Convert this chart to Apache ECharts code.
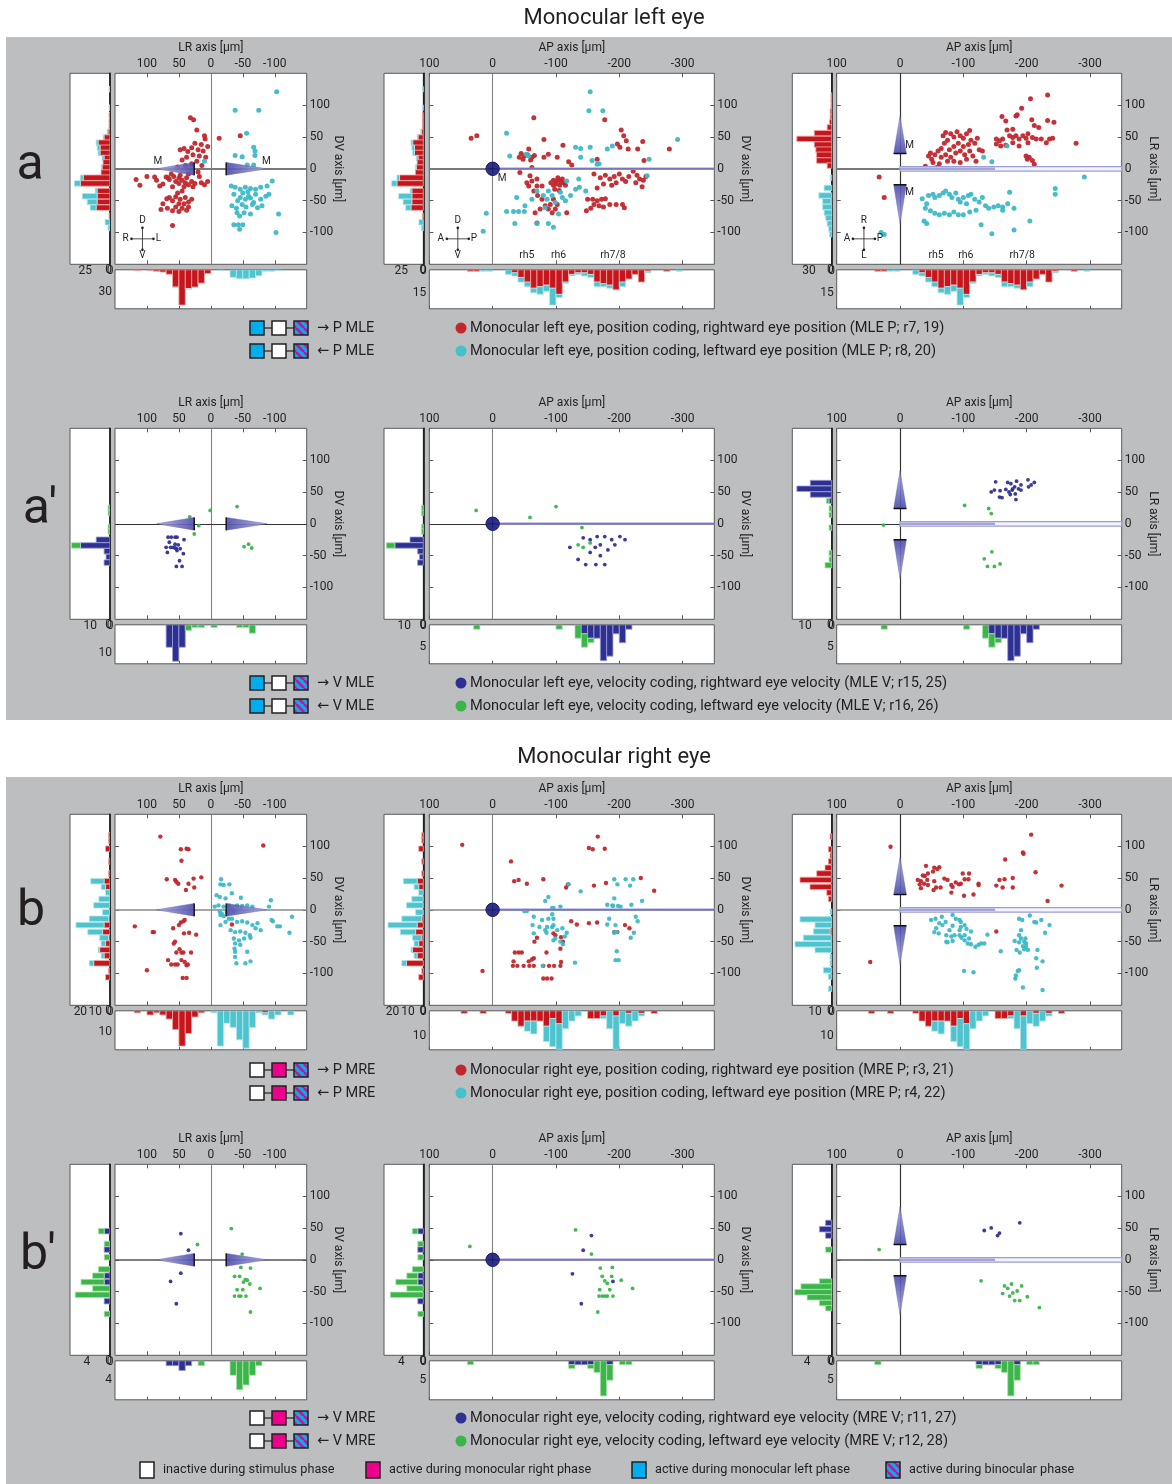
<!DOCTYPE html>
<html><head><meta charset="utf-8">
<script src="https://cdn.jsdelivr.net/npm/echarts@6/dist/echarts.min.js"></script>
<style>
html,body{margin:0;padding:0;background:#fff;}
#bg1{position:absolute;left:6px;top:37px;width:1166px;height:683px;background:#bcbec0;}
#bg2{position:absolute;left:6px;top:777px;width:1166px;height:707px;background:#bcbec0;}
#chart{position:absolute;left:0;top:0;width:1172px;height:1484px;}
</style></head>
<body><div id="bg1"></div><div id="bg2"></div><div id="chart"></div>
<script>
// ---------------- tick labels / ranges ----------------
const LR_TICKS=[100,50,0,-50,-100];
const AP_TICKS=[100,0,-100,-200,-300];
const DV_TICKS=[100,50,0,-50,-100];
const LR_RANGE=[-150,150], AP_RANGE=[-350,100], DV_RANGE=[-150,150];

// ---------------- row a: monocular left eye, position ----------------
const a_LRDV_red=[[32,80],[27,77],[22,61],[10,52],[9,47],[-13,48],[-46,52],
[25,40],[15,38],[5,35],[30,33],[20,30],[42,32],[48,30],[36,27],[12,28],[28,22],[18,20],[8,18],[38,18],[45,14],[22,12],[30,8],[14,5],[40,5],[52,3],
[20,-5],[35,-8],[48,-10],[58,-12],[70,-13],[88,-13],[100,-12],[117,-17],[111,-26],[85,-18],[75,-24],[65,-17],[55,-20],[50,-23],[45,-18],[40,-22],[35,-25],[30,-20],[25,-23],[15,-22],[10,-25],[5,-20],[60,-28],[42,-28],[28,-28],[50,-15],[38,-14],[18,-12],[62,-8],[80,-27],[67,-14],
[45,-35],[52,-38],[55,-44],[48,-48],[40,-45],[60,-50],[50,-55],[42,-55],[35,-52],[55,-60],[45,-62],[38,-65],[50,-67],[60,-66],[68,-62],[75,-55],[65,-45],[30,-48],[35,-60],[78,-64],[69,-47],[60,-89]];
const a_LRDV_cyan=[[-103,121],[-38,92],[-75,92],[-56,56],[-67,34],[-69,28],[-38,21],[-49,19],[-69,21],[-57,6],[-67,6],[10,12],
[-32,-27],[-38,-29],[-46,-32],[-54,-29],[-62,-31],[-70,-32],[-78,-29],[-88,-27],[-96,-19],
[-36,-40],[-46,-45],[-54,-48],[-59,-43],[-67,-53],[-78,-48],[-86,-43],[-91,-40],
[-33,-58],[-49,-56],[-65,-56],[-73,-61],[-41,-69],[-52,-69],[-62,-71],[-45,-74],
[-106,-71],[-36,-88],[-43,-88],[-50,-88],[-45,-95],[-102,-100],
[-50,-38],[-58,-36],[-42,-50],[-62,-46],[-70,-40],[-55,-60],[-80,-58],[-40,-62]];
const a_APDV_red=[[34,48],[25,52],[-65,80],[-177,77],[-203,61],[-207,52],[-211,44],[-197,39],[-201,34],[-214,31],[-237,43],[-229,31],[-279,31],
[-81,46],[-111,37],[-88,23],[-81,18],[-102,18],
[-45,24],[-50,20],[-55,22],[-62,18],[-48,15],[-60,14],[-42,18],[-66,21],[-57,31],[-120,11],[-125,6],[-165,15],[-239,13],
[-96,-18],[-100,-20],[-104,-18],[-108,-20],[-112,-22],[-100,-24],[-106,-26],[-96,-26],[-110,-16],[-103,-14],[-92,-22],[-115,-26],[-98,-32],[-105,-34],
[-59,-11],[-62,-19],[-70,-16],[-70,-27],[-78,-27],[-54,-22],[-57,-27],[-62,2],[-43,-6],
[-65,-35],[-71,-42],[-78,-48],[-83,-58],[-88,-63],[-94,-69],[-75,-63],[-96,-48],[-102,-56],[-91,-56],[-99,-63],[-67,-69],[-70,-85],
[-160,-8],[-170,-14],[-178,-10],[-185,-16],[-192,-12],[-200,-8],[-205,-16],[-195,-22],[-188,-26],[-175,-24],[-165,-30],[-210,-20],[-215,-12],[-222,-4],[-228,-10],[-232,-16],[-226,-22],[-238,-18],[-242,-12],[-236,-28],
[-150,-48],[-158,-48],[-165,-50],[-172,-48],[-178,-47],[-160,-56],[-168,-58],[-155,-62],[-175,-60],[-185,-56],[-195,-56],[-205,-56],[-208,-61],[-148,-66],[-117,-69]];
const a_APDV_cyan=[[-154,121],[-152,91],[-174,91],[-22,56],[-27,20],[-131,34],[-139,32],[-154,34],[-181,31],[-189,36],[-292,46],[-247,15],[-53,23],[-57,20],[-139,18],[-157,13],[-165,7],[-168,8],
[10,-70],[15,-98],[-38,-45],[-51,-58],[-22,-67],[-33,-67],[-41,-67],[-50,-67],[-35,-86],[-70,-86],[-88,-86],[-96,-92],
[-62,-48],[-70,-35],[-80,-42],[-86,-48],[-88,-35],[-94,-42],[-99,-53],[-107,-37],[-110,-45],[-115,-50],[-123,-42],[-131,-32],[-137,-29],[-147,-35],[-83,-61],[-104,-71],[-244,-11],[-117,-19],[-136,-16]];
const a_APLR_red=[[-233,116],[-206,110],[-192,95],[-183,83],[-185,85],[-161,82],[-167,75],[-208,77],[-233,76],[-243,73],[-219,65],[-212,68],[-169,61],[-178,62],
[-152,47],[-157,44],[-162,47],[-173,52],[-178,49],[-183,52],[-188,47],[-194,52],[-199,48],[-202,55],[-209,49],[-215,47],[-223,47],[-231,41],[-236,47],[-241,48],
[-152,39],[-159,36],[-167,37],[-178,41],[-188,36],[-202,41],[-278,40],[-199,20],[-204,18],[-209,13],[-212,7],[-201,15],
[-45,20],[-50,15],[-48,25],[-55,22],[-52,10],[-60,28],[-65,32],[-70,40],[-75,45],[-68,52],[-72,57],[-80,55],[-85,50],[-90,58],[-95,52],[-100,48],[-105,55],[-110,60],[-112,45],[-118,40],[-108,38],[-100,35],[-92,40],[-85,35],[-78,30],[-72,22],[-80,18],[-88,25],[-95,28],[-102,22],[-110,28],[-115,20],[-120,12],[-95,10],[-85,12],[-62,8],[-40,4],[-58,2],[-125,30],[-130,28],[-122,48],[-65,18],[-75,12],[-105,15],
[33,-13],[25,-45]];
const a_APLR_cyan=[[-169,36],[-132,18],[-145,11],[-291,-13],[-245,-31],[-245,-40],[-173,-37],
[-35,-47],[-42,-55],[-45,-42],[-52,-40],[-55,-45],[-62,-42],[-68,-38],[-72,-35],[-78,-40],[-82,-45],[-88,-38],[-92,-48],[-95,-52],[-100,-45],[-105,-55],[-108,-42],[-112,-40],[-118,-48],[-125,-52],[-130,-45],[-135,-58],[-140,-62],[-148,-60],[-155,-58],[-162,-60],[-170,-55],[-180,-62],[-40,-62],[-48,-66],[-55,-70],[-62,-72],[-70,-70],[-78,-72],[-85,-68],[-92,-72],[-100,-72],[-110,-68],[-120,-65],[-128,-88],[-145,-102],[-180,-96],[-205,-82],[-38,-82],[-42,-86],[-162,-65],[30,-100],[25,-103]];
// histograms: [bin centre, first series count, second series count (stacked)]
const a_histDV=[[125,0,1],[96,0,1],[84,1,0],[75,1,0],[67,1,0],[58,2,1],[49,6,1],[41,12,2],[33,10,3],[25,10,2],[17,6,2],[10,7,0],[2,8,1],[-6,9,0],[-14,27,3],[-23,30,6],[-35,13,2],[-43,13,15],[-52,13,10],[-61,14,6],[-74,1,0],[-84,0,5],[-93,0,2]];
const a_histLR=[[115,1,0],[95,1,0],[85,2,0],[75,3,0],[65,6,0],[55,23,1],[45,47,0],[35,25,1],[25,23,0],[15,18,1],[5,5,0],[-15,0,1],[-35,0,10],[-45,0,12],[-55,0,12],[-65,0,11],[-75,0,8],[-85,0,2],[-95,0,2],[-105,0,1]];
const a_histAP=[[35,1,0],[25,1,0],[15,0,1],[5,0,1],[-25,0,3],[-35,2,2],[-45,5,3],[-55,8,3],[-65,12,3],[-75,11,5],[-85,10,4],[-95,12,11],[-105,16,2],[-115,8,1],[-125,3,1],[-135,2,1],[-145,2,2],[-155,3,2],[-165,8,3],[-175,9,2],[-185,10,2],[-195,13,0],[-205,8,3],[-215,6,0],[-225,3,0],[-235,8,0],[-245,1,1],[-275,1,0],[-295,0,1]];
const a_histLRs=[[115,1,0],[107,1,0],[98,1,0],[90,2,0],[81,2,0],[73,3,0],[65,6,0],[56,23,0],[47,46,0],[38,23,0],[30,21,0],[22,20,0],[13,20,0],[5,6,0],[-14,1,1],[-30,0,10],[-42,0,17],[-51,1,11],[-60,0,12],[-69,0,10],[-77,0,8],[-86,0,6],[-94,0,4],[-103,0,3]];
const a_histAxes=[[40.4,[25,0]],[52,[0,30]],[44.7,[25,0]],[25.4,[0,15]],[52,[30,0]],[25.4,[0,15]]];

// ---------------- row a': monocular left eye, velocity ----------------
const ap_LRDV_blue=[[67,-21],[62,-21],[56,-21],[53,-21],[42,-25],[65,-29],[56,-32],[51,-33],[70,-37],[63,-37],[56,-38],[48,-39],[68,-45],[53,-42],[43,-47],[49,-58],[54,-67],[45,-67],[59,-37],[54,-39]];
const ap_LRDV_green=[[33,11],[19,-3],[26,-16],[1,21],[-41,27],[-52,-36],[-59,-32],[-64,-38]];
const ap_APDV_blue=[[-143,-22],[-154,-25],[-165,-20],[-177,-20],[-188,-25],[-201,-20],[-209,-25],[-162,-37],[-170,-33],[-182,-41],[-193,-33],[-154,-45],[-170,-50],[-135,-56],[-147,-64],[-163,-64],[-177,-64],[-122,-37]];
const ap_APDV_green=[[26,21],[-59,10],[-100,27],[-135,-33],[-143,-37],[-154,-30],[-141,-6]];
const ap_APLR_blue=[[-151,66],[-144,50],[-149,53],[-158,52],[-170,65],[-175,63],[-184,67],[-202,69],[-212,65],[-207,61],[-203,58],[-191,61],[-187,55],[-181,58],[-177,53],[-172,50],[-182,47],[-174,46],[-157,42],[-161,41],[-183,38],[-167,54],[-178,55],[-191,53]];
const ap_APLR_green=[[-102,29],[-140,24],[-144,16],[26,-2],[-145,-44],[-133,-55],[-138,-67],[-149,-67],[-158,-63]];
const ap_histDV=[[25,0,1],[17,0,1],[-5,0,1],[-12,0,1],[-25,7,0],[-34,15,4.5],[-43,3,0],[-52,2,0],[-61,3,0]];
const ap_histLR=[[65,8,0],[55,13,0],[45,8,0],[35,0,2],[25,0,1],[15,0,1],[-5,0,1],[-45,0,1],[-55,0,1],[-65,0,3]];
const ap_histAP=[[25,0,1],[-105,0,1],[-135,0,3],[-145,2,3],[-155,3,1],[-165,3,0],[-175,8,0],[-185,7,0],[-195,2,0],[-205,4,0],[-215,1,0]];
const ap_histLRs=[[64,8,0],[55,13,0],[46,8,0],[36,1,1],[24,0,1],[14,0,1],[-6,0,1],[-46,0,1],[-56,0,1],[-65,0,2.5]];
const ap_histAxes=[[20.3,[10,0]],[13.9,[0,10]],[20.7,[10,0]],[8.7,[0,5]],[14.7,[10,0]],[8.7,[0,5]]];

// ---------------- row b: monocular right eye, position ----------------
const b_LRDV_red=[[79,115],[-82,101],[47,95],[38,96],[35,95],[46,77],[69,48],[56,47],[54,44],[51,41],[27,49],[15,51],[35,41],[26,35],[39,31],
[119,-26],[91,-35],[89,-35],[59,-29],[47,-20],[43,-18],[41,-16],[50,-24],[42,-37],[34,-36],[23,-39],[56,-50],[58,-53],[49,-62],[54,-67],[46,-67],[43,-67],[31,-67],[67,-79],[62,-86],[56,-86],[52,-86],[46,-79],[41,-82],[38,-87],[36,-86],[100,-95],[44,-107],[38,-107],[-33,-23]];
const b_LRDV_cyan=[[-16,48],[-15,40],[-20,39],[-29,40],[-9,23],[-14,20],[-23,18],[-33,26],[-47,19],[-6,5],[-12,7],[-20,5],[-28,7],[-41,7],[-49,6],[-57,7],[-65,5],[-94,15],[-91,5],[-14,-3],[-17,-6],[-25,-3],[-36,-3],[-15,-8],[-20,-10],[-28,-14],[-33,-14],[-41,-19],[-49,-18],[-57,-20],[-65,-24],[-73,-21],[-95,-16],[-97,-18],[-104,-26],[-108,-26],[-127,-11],[-123,-36],[-15,-24],[-23,-19],[-31,-32],[-38,-35],[-46,-34],[-54,-36],[-61,-40],[-36,-45],[-44,-48],[-52,-45],[-62,-44],[-38,-53],[-46,-55],[-57,-66],[-37,-61],[-38,-66],[-38,-74],[-54,-84],[-62,-81],[-40,-84],[-70,-29],[-78,-32]];
const b_APDV_red=[[48,102],[16,-96],[-29,76],[-34,45],[-41,47],[-54,41],[-80,48],[-152,97],[-158,95],[-166,115],[-177,96],[-116,35],[-119,40],[-160,38],[-179,42],[-234,50],[-255,30],
[-35,-67],[-41,-67],[-46,-67],[-57,-81],[-62,-78],[-65,-76],[-33,-81],[-32,-88],[-39,-88],[-49,-88],[-58,-88],[-65,-88],[-80,-88],[-89,-88],[-97,-88],[-107,-88],[-108,-82],[-80,-108],[-86,-108],[-93,-108],[-85,-67],[-66,-50],[-70,-44],[-107,-61],[-111,-50],[-96,-37],[-99,-40],[-124,-18],[-133,-23],[-152,-21],[-165,-20],[-192,-35],[-209,-24],[-216,-29],[-197,-35],[-108,-43]];
const b_APDV_cyan=[[-139,29],[-120,40],[-88,20],[-83,14],[-94,3],[-96,3],[-107,5],[-50,-2],[-54,-2],[-65,-11],[-78,-16],[-88,-14],[-94,-7],[-96,-14],[-74,-27],[-86,-27],[-94,-27],[-96,-24],[-102,-32],[-110,-29],[-117,-36],[-63,-24],[-65,-37],[-83,-32],[-85,-36],[-96,-48],[-99,-45],[-114,-42],[-107,-50],[-111,-54],[-130,-83],[-79,-88],
[-192,48],[-197,40],[-210,48],[-217,38],[-222,48],[-192,18],[-190,6],[-189,7],[-181,8],[-198,6],[-202,5],[-219,8],[-236,14],[-184,-14],[-181,-23],[-194,-24],[-192,-36],[-196,-35],[-226,-11],[-229,-18],[-218,-44],[-223,-36],[-196,-65],[-194,-79],[-199,-79]];
const b_APLR_red=[[15,99],[47,-82],[-207,118],[-194,90],[-195,88],[-166,79],[-214,59],[-178,50],[-165,48],[-157,47],[-162,35],[-178,35],[-255,38],[-233,14],[-152,38],
[-41,69],[-54,66],[-59,64],[-62,67],[-36,54],[-39,53],[-44,57],[-52,60],[-28,47],[-33,45],[-38,41],[-44,39],[-54,45],[-57,35],[-64,35],[-70,49],[-75,47],[-81,39],[-83,36],[-88,43],[-93,40],[-99,57],[-109,57],[-102,48],[-108,48],[-96,41],[-124,41],[-124,39],[-81,27],[-101,22],[-116,24],[-31,40],[-53,31],[-43,47],[-33,34],[-152,-34]];
const b_APLR_cyan=[[-49,-16],[-56,-14],[-66,-11],[-62,-21],[-67,-24],[-57,-29],[-54,-35],[-61,-37],[-73,-40],[-81,-42],[-73,-50],[-75,-51],[-83,-49],[-86,-40],[-94,-40],[-97,-44],[-102,-48],[-107,-53],[-112,-54],[-119,-58],[-124,-55],[-128,-53],[-133,-53],[-138,-39],[-96,-19],[-96,-27],[-83,-8],[-88,-14],[-94,-16],[-102,-24],[-105,-30],[-112,-34],[-94,-32],[-102,-40],[-109,-45],[-83,-25],[-78,-32],[-72,-19],
[-188,-14],[-193,-16],[-205,-9],[-212,-19],[-215,-20],[-223,-16],[-229,-36],[-236,-24],[-188,-40],[-191,-45],[-196,-50],[-188,-51],[-194,-57],[-199,-58],[-181,-49],[-184,-63],[-189,-67],[-196,-62],[-202,-63],[-217,-63],[-215,-76],[-225,-81],[-216,-91],[-188,-95],[-186,-96],[-183,-103],[-182,-108],[-194,-122],[-225,-126],[-159,-65],[-191,-32],[-198,-45],[-199,-53],[-101,-96],[-116,-98]];
const b_histDV=[[117,1,0],[109,1,0],[96,3,0],[76,1,0],[57,1,0],[45,4,9],[36,3,3],[27,0,3],[17,0,7.5],[7,0,11],[-4,0,5],[-14,1,13],[-24,4,19],[-35,5,10],[-44,1,6],[-53,3,3],[-63,7,1],[-72,4,2],[-84,11,3],[-96,1,0],[-106,3,0]];
const b_histLR=[[115,1,0],[95,2,0],[85,1,0],[75,2,0],[65,4,0],[55,9,0],[45,17,0],[35,11,0],[25,3,0],[15,1,0],[-5,0,1],[-15,0,17],[-25,0,6],[-35,0,8],[-45,0,14],[-55,0,18],[-65,0,8],[-75,0,1],[-85,1,1],[-95,0,4],[-105,0,2],[-125,0,2]];
const b_histAP=[[45,1,0],[15,1,0],[-25,1,0],[-35,4,0],[-45,6,0],[-55,4,4],[-65,4,5],[-75,4,0],[-85,6,6],[-95,3,11],[-105,5,10],[-115,0,7],[-125,0,4],[-135,0,2],[-155,3,0],[-165,3,0],[-175,2,1],[-185,0,7],[-195,2,13],[-205,0,5],[-215,1,5],[-225,0,4],[-235,1,1],[-255,1,0]];
const b_histLRs=[[115,1,0],[95,2,0],[85,1,0],[76,2,0],[66,4,0],[57,9,0],[47,19,0],[36,13,0],[27,3,0],[17,2,0],[-3,0,1],[-15,0,19],[-24,0,10],[-34,1,10],[-44,0,17],[-54,0,22],[-63,0,10],[-74,0,1],[-84,0,1],[-95,0,5],[-105,0,2],[-124,0,2]];
const b_histAxes=[[27,[20,10,0]],[18.8,[0,10]],[25.6,[20,10,0]],[15.2,[0,10]],[23.6,[10,0]],[15.2,[0,10]]];

// ---------------- row b': monocular right eye, velocity ----------------
const bp_LRDV_blue=[[47,41],[35,15],[47,-21],[63,-34],[54,-69]];
const bp_LRDV_green=[[21,24],[-32,49],[-49,9],[-47,-12],[-62,-13],[-37,-26],[-45,-26],[-51,-35],[-54,-31],[-57,-32],[-61,-38],[-41,-47],[-50,-47],[-77,-45],[-37,-57],[-44,-57],[-47,-57],[-55,-57],[-62,-82]];
const bp_APDV_blue=[[-156,38],[-143,15],[-126,-22],[-190,-34],[-140,-69]];
const bp_APDV_green=[[36,21],[-131,47],[-156,9],[-170,-13],[-189,-12],[-173,-26],[-188,-26],[-177,-33],[-181,-37],[-203,-32],[-169,-47],[-185,-47],[-221,-45],[-168,-57],[-173,-57],[-177,-57],[-181,-57],[-190,-57],[-166,-82]];
const bp_APLR_blue=[[-133,46],[-144,50],[-154,38],[-189,58],[-157,42]];
const bp_APLR_green=[[33,16],[-128,-33],[-165,-41],[-176,-38],[-185,-49],[-192,-41],[-173,-57],[-162,-53],[-201,-58],[-220,-75],[-181,-64],[-189,-64],[-170,-45],[-178,-52]];
const bp_histDV=[[45,1,1],[25,0,1],[16,1,0],[4,0,1],[-15,0,2],[-25,1,2],[-35,1,4],[-45,0,3],[-55,0,6],[-65,1,0],[-85,0,1]];
const bp_histLR=[[65,1,0],[55,1,0],[45,2,0],[35,1,0],[15,0,1],[-35,0,3],[-45,0,6],[-55,0,5],[-65,0,3],[-75,0,1]];
const bp_histAP=[[35,0,1],[-125,1,1],[-135,1,0],[-145,1,0],[-155,1,1],[-165,0,3],[-175,0,9],[-185,1,4],[-205,0,1],[-215,0,1]];
const bp_histLRs=[[58,1,0],[48,2,0],[38,1,0],[16,0,1],[-34,0,2],[-42,0,5],[-51,0,6],[-59,0,4],[-68,0,2],[-76,0,1]];
const bp_histAxes=[[6.9,[4,0]],[8.07,[0,4]],[7.15,[4,0]],[10,[0,5]],[6.4,[4,0]],[10,[0,5]]];

// ---------------- annotation geometry (data units) ----------------
const M_TRI_LRDV=[[85,26,10],[-88,-24,10]];   // tip LR, base LR, half height (DV)
const M_TRI_APLR=[[83,24,10],[-86,-25,10]];   // tip LR, base LR, half width (AP)
const BAND_APLR=[[0,-350,3.5,-150]];
const M_LAB_LRDV=[[83,11],[-87,11]], M_LAB_APDV=[[-15,-16]], M_LAB_APLR=[[-15,37],[-15,-37]];
const RH_NAMES=['rh5','rh6','rh7/8'];
const RH_APDV=[[-54,-136],[-104,-136],[-190,-136]];
const RH_APLR=[[-57,-136],[-104,-136],[-193,-136]];
const CROSS_POS=[[107,-110],[55,-110],[57,-110]];
const CROSS_TXT=[['D','V','R','L'],['D','V','A','P'],['R','L','A','P']];

// ---------------- styles ----------------
const FONT="Roboto, 'Noto Sans', 'DejaVu Sans', sans-serif";
const TXT='#231f20';
const RED='#c1272d', CYAN='#3cb9c6', BLUE='#2e3192', GREEN='#39b54a';
const H_RED=['#c4161c','#f2aaa6'], H_CYAN=['#4fc4cf','#b5e7ec'], H_BLUE=['#2e3192','#9d9dd8'], H_GREEN=['#3cb64b','#aee3ae'];

const COLS=[
 {x:115,w:191.7,sx:70,sw:40,xname:'LR axis [µm]',yname:'DV axis [µm]',xr:LR_RANGE,xt:LR_TICKS,type:'LRDV'},
 {x:429.3,w:285,sx:384,sw:39.3,xname:'AP axis [µm]',yname:'DV axis [µm]',xr:AP_RANGE,xt:AP_TICKS,type:'APDV'},
 {x:836.7,w:285,sx:792.3,sw:39.4,xname:'AP axis [µm]',yname:'LR axis [µm]',xr:AP_RANGE,xt:AP_TICKS,type:'APLR'}
];
const MAIN_H=191, BH_GAP=196.5, BH_H=39;
const ROWS=[
 {top:73.3,dot:5,pc:[RED,CYAN],hc:[H_RED,H_CYAN],sc:[[a_LRDV_red,a_LRDV_cyan],[a_APDV_red,a_APDV_cyan],[a_APLR_red,a_APLR_cyan]],
  hs:[a_histDV,a_histDV,a_histLRs],hb:[a_histLR,a_histAP,a_histAP],ha:a_histAxes,zl:['#7a7a7a',2],deco:true},
 {top:428.3,dot:3.8,pc:[BLUE,GREEN],hc:[H_BLUE,H_GREEN],sc:[[ap_LRDV_blue,ap_LRDV_green],[ap_APDV_blue,ap_APDV_green],[ap_APLR_blue,ap_APLR_green]],
  hs:[ap_histDV,ap_histDV,ap_histLRs],hb:[ap_histLR,ap_histAP,ap_histAP],ha:ap_histAxes,zl:['#333333',1.2],deco:false},
 {top:814.3,dot:4.4,pc:[RED,CYAN],hc:[H_RED,H_CYAN],sc:[[b_LRDV_red,b_LRDV_cyan],[b_APDV_red,b_APDV_cyan],[b_APLR_red,b_APLR_cyan]],
  hs:[b_histDV,b_histDV,b_histLRs],hb:[b_histLR,b_histAP,b_histAP],ha:b_histAxes,zl:['#8a8a8a',1.5],deco:false},
 {top:1164.3,dot:3.8,pc:[BLUE,GREEN],hc:[H_BLUE,H_GREEN],sc:[[bp_LRDV_blue,bp_LRDV_green],[bp_APDV_blue,bp_APDV_green],[bp_APLR_blue,bp_APLR_green]],
  hs:[bp_histDV,bp_histDV,bp_histLRs],hb:[bp_histLR,bp_histAP,bp_histAP],ha:bp_histAxes,zl:['#555555',1.5],deco:false}
];

// ---------------- builders ----------------
const grids=[], xAxes=[], yAxes=[], series=[];
function addGrid(l,t,w,h,extra){grids.push(Object.assign({left:l,top:t,width:w,height:h,show:true,backgroundColor:'#ffffff',borderColor:'#58595b',borderWidth:1,containLabel:false,outerBoundsMode:'none'},extra||{}));return grids.length-1;}
function lab(vals,extra){return Object.assign({show:true,customValues:vals,fontSize:12,color:TXT,fontFamily:FONT},extra||{});}
function tick(vals,len){return {show:true,inside:true,length:len||4,customValues:vals,lineStyle:{color:'#58595b',width:1}};}
const NOSPLIT={show:false};
function addX(o){const a=Object.assign({type:'value',splitLine:NOSPLIT,nameMoveOverlap:false},o);a.axisLine=Object.assign({show:false},o.axisLine||{},{onZero:false});xAxes.push(a);return xAxes.length-1;}
function addY(o){const a=Object.assign({type:'value',splitLine:NOSPLIT,nameMoveOverlap:false},o);a.axisLine=Object.assign({show:false},o.axisLine||{},{onZero:false});yAxes.push(a);return yAxes.length-1;}

function histSeries(xi,yi,data,bw,orient,hc){
 return {type:'custom',xAxisIndex:xi,yAxisIndex:yi,silent:true,clip:true,z:2,data:data,
  renderItem:function(p,api){
   const c=api.value(0),v1=api.value(1),v2=api.value(2);
   const mk=function(a0,a1,col){
    let p0,p1;
    if(orient==='h'){p0=api.coord([a0,c+bw/2]);p1=api.coord([a1,c-bw/2]);}
    else{p0=api.coord([c+bw/2,a0]);p1=api.coord([c-bw/2,a1]);}
    return {type:'rect',shape:{x:Math.min(p0[0],p1[0]),y:Math.min(p0[1],p1[1]),width:Math.abs(p1[0]-p0[0]),height:Math.abs(p1[1]-p0[1])},style:{fill:col[0],stroke:col[1],lineWidth:0.8}};
   };
   const kids=[];
   if(v1>0)kids.push(mk(0,v1,hc[0]));
   if(v2>0)kids.push(mk(v1,v1+v2,hc[1]));
   return {type:'group',children:kids};
  }};
}
function triSeries(type,xi,yi){
 const data=type==='LRDV'?M_TRI_LRDV:M_TRI_APLR;
 return {type:'custom',xAxisIndex:xi,yAxisIndex:yi,silent:true,clip:true,z:4,data:data,
  renderItem:function(p,api){
   const tip=api.value(0),base=api.value(1),hw=api.value(2);
   let pt,p1,p2;
   if(type==='LRDV'){pt=api.coord([tip,0]);p1=api.coord([base,hw]);p2=api.coord([base,-hw]);}
   else{pt=api.coord([0,tip]);p1=api.coord([hw,base]);p2=api.coord([-hw,base]);}
   const mid=[(p1[0]+p2[0])/2,(p1[1]+p2[1])/2];
   return {type:'group',children:[
    {type:'polygon',shape:{points:[pt,p1,p2]},style:{fill:{type:'linear',x:pt[0],y:pt[1],x2:mid[0],y2:mid[1],global:true,colorStops:[{offset:0,color:'rgba(165,165,222,0.85)'},{offset:1,color:'rgba(78,78,172,0.92)'}]},stroke:'rgba(90,90,175,0.7)',lineWidth:0.6}},
    {type:'line',shape:{x1:p1[0],y1:p1[1],x2:p2[0],y2:p2[1]},style:{stroke:'#111111',lineWidth:1.4}}
   ]};
  }};
}
function somaSeries(xi,yi){
 return {type:'custom',xAxisIndex:xi,yAxisIndex:yi,silent:true,clip:true,z:4,data:[[0,0]],
  renderItem:function(p,api){
   const c=api.coord([api.value(0),api.value(1)]), e=api.coord([AP_RANGE[0],0]);
   return {type:'group',children:[
    {type:'line',shape:{x1:c[0],y1:c[1],x2:e[0],y2:e[1]},style:{stroke:'#9898d4',lineWidth:2.6}},
    {type:'line',shape:{x1:c[0],y1:c[1],x2:e[0],y2:e[1]},style:{stroke:'#5a5ab0',lineWidth:0.8}},
    {type:'circle',shape:{cx:c[0],cy:c[1],r:6.7},style:{fill:'#2e3192',stroke:'#16164a',lineWidth:1}},
    {type:'line',shape:{x1:c[0]-5,y1:c[1],x2:c[0]+5,y2:c[1]},style:{stroke:'#15154a',lineWidth:0.7}},
    {type:'line',shape:{x1:c[0],y1:c[1]-5,x2:c[0],y2:c[1]+5},style:{stroke:'#15154a',lineWidth:0.7}}
   ]};
  }};
}
function bandSeries(xi,yi){
 return {type:'custom',xAxisIndex:xi,yAxisIndex:yi,silent:true,clip:true,z:3,data:BAND_APLR,
  renderItem:function(p,api){
   const a0=api.value(0),a1=api.value(1),hh=api.value(2),a2=api.value(3);
   const o0=api.coord([a0,hh]),o1=api.coord([a1,-hh]),i0=api.coord([a0,hh*0.55]),i1=api.coord([a2,-hh*0.55]);
   return {type:'group',children:[
    {type:'rect',shape:{x:o0[0],y:o0[1],width:o1[0]-o0[0],height:o1[1]-o0[1]},style:{fill:'#f3f3fb',stroke:'#9c9cd6',lineWidth:1.3}},
    {type:'rect',shape:{x:i0[0],y:i0[1],width:i1[0]-i0[0],height:i1[1]-i0[1]},style:{fill:'#a4a4da'}}
   ]};
  }};
}
function textSeries(xi,yi,pts,names,size){
 return {type:'custom',xAxisIndex:xi,yAxisIndex:yi,silent:true,z:5,data:pts,
  renderItem:function(p,api){const c=api.coord([api.value(0),api.value(1)]);
   return {type:'text',x:c[0],y:c[1],style:{text:names[p.dataIndex],font:size+'px '+FONT,fill:TXT,align:'center',verticalAlign:'middle'}};}};
}
function crossSeries(xi,yi,pos,txt){
 return {type:'custom',xAxisIndex:xi,yAxisIndex:yi,silent:true,z:5,data:[pos],
  renderItem:function(p,api){
   const c=api.coord([api.value(0),api.value(1)]),L=11,s={stroke:'#231f20',lineWidth:0.8};
   const kids=[{type:'line',shape:{x1:c[0]-L,y1:c[1],x2:c[0]+L,y2:c[1]},style:s},{type:'line',shape:{x1:c[0],y1:c[1]-L,x2:c[0],y2:c[1]+L},style:s}];
   [[0,-L],[0,L],[-L,0],[L,0]].forEach(function(d){kids.push({type:'circle',shape:{cx:c[0]+d[0],cy:c[1]+d[1],r:1.3},style:{fill:'#231f20'}});});
   const off=[[0,-18],[0,17],[-17,0],[16,0]];
   txt.forEach(function(t,i){kids.push({type:'text',x:c[0]+off[i][0],y:c[1]+off[i][1],style:{text:t,font:'10px '+FONT,fill:TXT,align:'center',verticalAlign:'middle'}});});
   return {type:'group',children:kids};
  }};
}

ROWS.forEach(function(row){
 COLS.forEach(function(col,ci){
  const top=row.top;
  // main scatter grid
  const gm=addGrid(col.x,top,col.w,MAIN_H);
  const xm=addX({gridIndex:gm,position:'top',min:col.xr[0],max:col.xr[1],inverse:true,name:col.xname,nameLocation:'middle',nameGap:19,
    nameTextStyle:{fontSize:12,color:TXT,fontFamily:FONT},axisTick:tick(col.xt),axisLabel:lab(col.xt,{margin:3})});
  addX({gridIndex:gm,position:'bottom',min:col.xr[0],max:col.xr[1],inverse:true,axisTick:tick(col.xt),axisLabel:{show:false}});
  const ym=addY({gridIndex:gm,position:'right',min:DV_RANGE[0],max:DV_RANGE[1],name:col.yname,nameLocation:'middle',nameRotate:-90,nameGap:25,
    nameTextStyle:{fontSize:12,color:TXT,fontFamily:FONT},axisTick:tick(DV_TICKS),axisLabel:lab(DV_TICKS,{margin:3})});
  addY({gridIndex:gm,position:'left',min:DV_RANGE[0],max:DV_RANGE[1],axisTick:tick(DV_TICKS),axisLabel:{show:false}});
  // zero lines
  const vcol=ci===2?['#333333',1.2]:['#808080',1.1];
  const mlData=[{xAxis:0,lineStyle:{color:vcol[0],width:vcol[1],type:'solid'}}];
  if(ci===0) mlData.push({yAxis:0,lineStyle:{color:row.zl[0],width:row.zl[1],type:'solid'}});
  else mlData.push([{coord:[col.xr[1],0],lineStyle:{color:row.zl[0],width:row.zl[1],type:'solid'}},{coord:[0,0]}]);
  row.sc[ci].forEach(function(d,si){
   const s={type:'scatter',xAxisIndex:xm,yAxisIndex:ym,data:d,symbol:'circle',symbolSize:row.dot,silent:true,z:2,
     itemStyle:{color:row.pc[si],opacity:0.95},animation:false};
   if(si===0)s.markLine={silent:true,symbol:['none','none'],label:{show:false},animation:false,data:mlData,z:1};
   series.push(s);
  });
  if(col.type==='LRDV')series.push(triSeries('LRDV',xm,ym));
  if(col.type==='APDV')series.push(somaSeries(xm,ym));
  if(col.type==='APLR'){series.push(bandSeries(xm,ym));series.push(triSeries('APLR',xm,ym));}
  if(row.deco){
   if(col.type==='LRDV')series.push(textSeries(xm,ym,M_LAB_LRDV,['M','M'],10));
   if(col.type==='APDV'){series.push(textSeries(xm,ym,M_LAB_APDV,['M'],10));series.push(textSeries(xm,ym,RH_APDV,RH_NAMES,10.5));}
   if(col.type==='APLR'){series.push(textSeries(xm,ym,M_LAB_APLR,['M','M'],10));series.push(textSeries(xm,ym,RH_APLR,RH_NAMES,10.5));}
   series.push(crossSeries(xm,ym,CROSS_POS[ci],CROSS_TXT[ci]));
  }
  // side histogram (horizontal bars)
  const sa=row.ha[ci*2], ba=row.ha[ci*2+1];
  const gs=addGrid(col.sx,top,col.sw,MAIN_H);
  const xs=addX({gridIndex:gs,position:'bottom',min:0,max:sa[0],inverse:true,axisTick:{show:false},axisLabel:lab(sa[1],{margin:1})});
  const ys=addY({gridIndex:gs,position:'right',min:DV_RANGE[0],max:DV_RANGE[1],axisLine:{show:true,lineStyle:{color:'#111111',width:1.6}},axisTick:{show:false},axisLabel:{show:false}});
  series.push(histSeries(xs,ys,row.hs[ci],8.6,'h',row.hc));
  // bottom histogram (vertical bars, growing downward)
  const gb=addGrid(col.x,top+BH_GAP,col.w,BH_H);
  const xb=addX({gridIndex:gb,position:'bottom',min:col.xr[0],max:col.xr[1],inverse:true,axisTick:tick(col.xt,3),axisLabel:{show:false}});
  const yb=addY({gridIndex:gb,position:'left',min:0,max:ba[0],inverse:true,axisTick:{show:false},axisLabel:lab(ba[1],{margin:3})});
  series.push(histSeries(xb,yb,row.hb[ci],10,'v',row.hc));
 });
});

// ---------------- legends & texts ----------------
const stripeCv=document.createElement('canvas');stripeCv.width=8;stripeCv.height=8;
(function(){const g=stripeCv.getContext('2d');g.fillStyle='#00aeef';g.fillRect(0,0,8,8);g.strokeStyle='#ec008c';g.lineWidth=2.6;
 [-8,0,8].forEach(function(k){g.beginPath();g.moveTo(k,0);g.lineTo(k+8,8);g.stroke();});})();
const STRIPE={image:stripeCv,repeat:'repeat'};
const LEGENDS=[
 {y:[328,351],sq:['#00aeef','#ffffff','stripe'],arrows:['→ P MLE','← P MLE'],dots:[RED,'#45c0cc'],
  texts:['Monocular left eye, position coding, rightward eye position (MLE P; r7, 19)','Monocular left eye, position coding, leftward eye position (MLE P; r8, 20)']},
 {y:[683,706],sq:['#00aeef','#ffffff','stripe'],arrows:['→ V MLE','← V MLE'],dots:[BLUE,GREEN],
  texts:['Monocular left eye, velocity coding, rightward eye velocity (MLE V; r15, 25)','Monocular left eye, velocity coding, leftward eye velocity (MLE V; r16, 26)']},
 {y:[1070,1093],sq:['#ffffff','#ec008c','stripe'],arrows:['→ P MRE','← P MRE'],dots:[RED,'#45c0cc'],
  texts:['Monocular right eye, position coding, rightward eye position (MRE P; r3, 21)','Monocular right eye, position coding, leftward eye position (MRE P; r4, 22)']},
 {y:[1418,1441],sq:['#ffffff','#ec008c','stripe'],arrows:['→ V MRE','← V MRE'],dots:[BLUE,GREEN],
  texts:['Monocular right eye, velocity coding, rightward eye velocity (MRE V; r11, 27)','Monocular right eye, velocity coding, leftward eye velocity (MRE V; r12, 28)']}
];
const KEY_TEXT=['inactive during stimulus phase','active during monocular right phase','active during monocular left phase','active during binocular phase'];
const KEY_FILL=['#ffffff','#ec008c','#00aeef','stripe'];
const KEY_X=[140,366,632,886];
const TITLES=[['Monocular left eye',18],['Monocular right eye',757]];
const LETTERS=[['a',30,166],['a′',40,510],['b',31,912],['b′',38,1256]];

const gfx=[];
TITLES.forEach(function(t){gfx.push({type:'text',x:614,y:t[1],style:{text:t[0],font:'22px '+FONT,fill:TXT,align:'center',verticalAlign:'middle'}});});
LETTERS.forEach(function(t){gfx.push({type:'text',x:t[1],y:t[2],style:{text:t[0],font:'50px '+FONT,fill:TXT,align:'center',verticalAlign:'middle'}});});
LEGENDS.forEach(function(L){
 L.y.forEach(function(y,i){
  const xs=[250,272,294];
  gfx.push({type:'line',shape:{x1:264,y1:y,x2:272,y2:y},style:{stroke:TXT,lineWidth:1.2}});
  gfx.push({type:'line',shape:{x1:286,y1:y,x2:294,y2:y},style:{stroke:TXT,lineWidth:1.2}});
  L.sq.forEach(function(c,k){gfx.push({type:'rect',shape:{x:xs[k],y:y-7,width:14,height:14},style:{fill:c==='stripe'?STRIPE:c,stroke:TXT,lineWidth:1.5}});});
  gfx.push({type:'text',x:317,y:y,style:{text:L.arrows[i],font:'14.5px '+FONT,fill:TXT,verticalAlign:'middle'}});
  gfx.push({type:'circle',shape:{cx:461,cy:y,r:5.5},style:{fill:L.dots[i]}});
  gfx.push({type:'text',x:470,y:y,style:{text:L.texts[i],font:'14.6px '+FONT,fill:TXT,verticalAlign:'middle'}});
 });
});
KEY_TEXT.forEach(function(t,i){
 gfx.push({type:'rect',shape:{x:KEY_X[i],y:1462,width:14,height:16},style:{fill:KEY_FILL[i]==='stripe'?STRIPE:KEY_FILL[i],stroke:TXT,lineWidth:1.5}});
 gfx.push({type:'text',x:KEY_X[i]+23,y:1470,style:{text:t,font:'12.7px '+FONT,fill:TXT,verticalAlign:'middle'}});
});

const chart=echarts.init(document.getElementById('chart'),null,{renderer:'canvas'});
chart.setOption({backgroundColor:'transparent',animation:false,grid:grids,xAxis:xAxes,yAxis:yAxes,series:series,graphic:{elements:gfx},tooltip:{show:false}});
</script>
</body></html>
